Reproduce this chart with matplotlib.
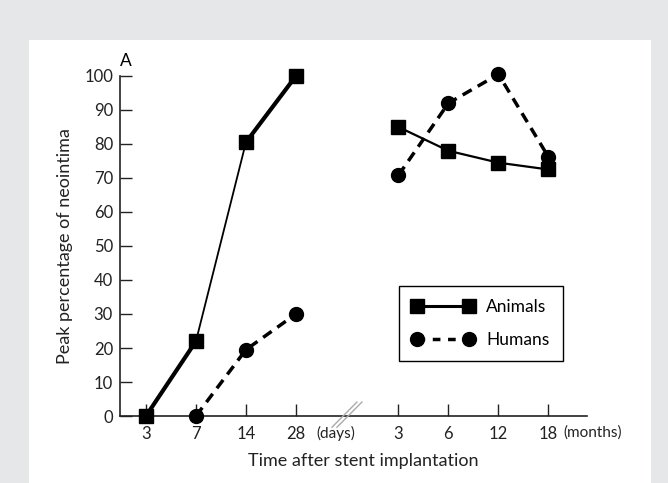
import matplotlib

matplotlib.use("Agg")
import matplotlib.pyplot as plt
from matplotlib.lines import Line2D
from matplotlib.patches import Rectangle

plt.rcParams["font.family"] = ["Lato", "DejaVu Sans"]

# categories on the broken time axis
day_labels = ["3", "7", "14", "28"]
month_labels = ["3", "6", "12", "18"]
day_pos = [0, 1, 2, 3]
month_pos = [5.05, 6.05, 7.05, 8.05]

# peak percentage of neointima
animals_days = [0, 22, 80.5, 100]
animals_months = [85, 78, 74.5, 72.5]
humans_day_pos = [1, 2, 3]
humans_days = [0, 19.5, 30]
humans_months = [70.8, 92, 100.5, 76.2]

# per-segment line widths for the animal day curve (as drawn in the figure)
animal_day_widths = [3.0, 1.3, 3.0]

fig = plt.figure(figsize=(6.68, 4.83), dpi=100, facecolor="#e6e7e8")
fig.patches.append(Rectangle((0.0434, 0.0), 0.931, 0.917, transform=fig.transFigure,
                             facecolor="white", edgecolor="none", zorder=-10))
ax = fig.add_axes([0.1796, 0.1387, 0.699, 0.704])
ax.set_facecolor("none")

ms = 10
for i, w in enumerate(animal_day_widths):
    ax.plot(day_pos[i:i + 2], animals_days[i:i + 2], color="black", lw=w,
            solid_capstyle="butt", clip_on=False, zorder=3)
ax.plot(day_pos, animals_days, ls="none", marker="s", ms=ms, color="black",
        clip_on=False, zorder=4)
ax.plot(month_pos, animals_months, color="black", lw=1.6, marker="s", ms=ms,
        clip_on=False, zorder=4)

ax.plot(humans_day_pos, humans_days, color="black", lw=2.5, ls=(0, (3, 2)),
        marker="o", ms=ms, clip_on=False, zorder=4)
ax.plot(month_pos, humans_months, color="black", lw=2.5, ls=(0, (3, 2)),
        marker="o", ms=ms, clip_on=False, zorder=4)

ax.set_xlim(-0.52, 8.82)
ax.set_ylim(0, 100)
ax.set_yticks(range(0, 101, 10))
ax.set_xticks(day_pos + month_pos)
ax.set_xticklabels(day_labels + month_labels)
ax.tick_params(direction="in", length=8.5, width=1, labelsize=12, pad=5,
               colors="#222222")
ax.tick_params(axis="x", pad=7)
for s in ("top", "right"):
    ax.spines[s].set_visible(False)
for s in ("left", "bottom"):
    ax.spines[s].set_linewidth(1.2)
    ax.spines[s].set_color("#222222")

# axis break
for dx in (0.0, 0.1):
    ax.plot([3.72 + dx, 4.22 + dx], [-3.3, 4.1], color="#aaaaaa", lw=1.0,
            clip_on=False, zorder=5)

ax.text(3.4, -5, "(days)", ha="left", va="center", fontsize=11, color="#222222")
ax.text(8.35, -5, "(months)", ha="left", va="center", fontsize=11, color="#222222")
ax.text(0.0, 1.02, "A", transform=ax.transAxes, ha="left", va="bottom", fontsize=12.5)

ax.set_ylabel("Peak percentage of neointima", fontsize=13, labelpad=8,
              color="#222222")
ax.set_xlabel("Time after stent implantation", fontsize=13, color="#222222")
ax.xaxis.set_label_coords(0.52, -0.11)

handles = [
    Line2D([], [], color="black", lw=2.2, marker="s", ms=ms),
    Line2D([], [], color="black", lw=2.5, ls=(0, (2.2, 2.2)), marker="o", ms=ms),
]
leg = ax.legend(handles, ["Animals", "Humans"], loc="upper left",
                bbox_to_anchor=(0.597, 0.382), borderaxespad=0, numpoints=2,
                fancybox=False, framealpha=1, edgecolor="black", fontsize=12.5,
                handlelength=3.6, borderpad=0.75, labelspacing=0.95,
                handletextpad=0.7)
leg.get_frame().set_linewidth(1.0)

fig.savefig("out.png", dpi=100)
